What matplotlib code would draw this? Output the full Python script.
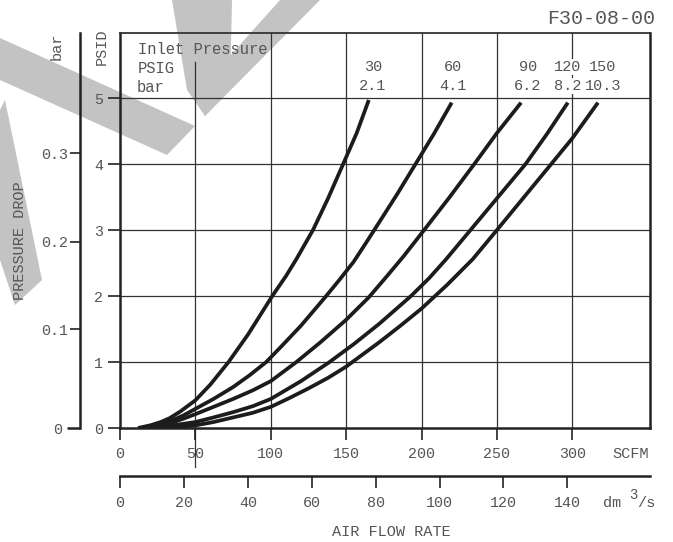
import matplotlib
matplotlib.use('Agg')
import matplotlib.pyplot as plt
from matplotlib.patches import Polygon

W, H = 673, 542
FONT = 'Liberation Mono'
TXT = '#555555'
INK = '#1c1c1c'

# pressure drop (PSID) against flow (SCFM)
INLET_PSIG = ['30', '60', '90', '120', '150']
INLET_BAR = ['2.1', '4.1', '6.2', '8.2', '10.3']

FLOW_30 = [12, 20, 27, 33, 40, 50, 60, 72, 85, 101, 110, 117, 128, 138, 148, 157, 165]
DROP_30 = [0, 0.04, 0.09, 0.15, 0.25, 0.42, 0.66, 1.0, 1.42, 2.0, 2.3, 2.56, 3.0,
           3.48, 4.0, 4.47, 4.97]

FLOW_60 = [14, 25, 33, 42, 50, 62, 75, 86, 97, 108, 120, 136, 145, 155, 163, 172,
           184, 196, 208, 220]
DROP_60 = [0, 0.04, 0.10, 0.19, 0.29, 0.44, 0.62, 0.8, 1.0, 1.26, 1.55, 1.98, 2.23,
           2.52, 2.8, 3.12, 3.55, 4.0, 4.45, 4.93]

FLOW_90 = [16, 25, 33, 42, 50, 62, 75, 88, 100, 117, 133, 150, 165, 177, 188, 200,
           218, 235, 250, 266]
DROP_90 = [0, 0.03, 0.07, 0.14, 0.21, 0.32, 0.44, 0.57, 0.71, 1.0, 1.3, 1.64, 1.98,
           2.3, 2.6, 2.95, 3.48, 4.0, 4.47, 4.93]

FLOW_120 = [18, 28, 35, 50, 62, 75, 88, 100, 120, 139, 155, 172, 193, 205, 216,
            231, 250, 269, 283, 297]
DROP_120 = [0, 0.02, 0.04, 0.09, 0.16, 0.24, 0.33, 0.44, 0.71, 1.0, 1.27, 1.58, 2.0,
            2.27, 2.55, 2.96, 3.48, 4.0, 4.45, 4.93]

FLOW_150 = [22, 35, 50, 62, 75, 88, 100, 112, 125, 138, 150, 172, 186, 200, 217,
            234, 250, 268, 286, 300, 317]
DROP_150 = [0, 0.01, 0.04, 0.09, 0.16, 0.23, 0.32, 0.45, 0.6, 0.76, 0.93, 1.3, 1.55,
            1.81, 2.17, 2.56, 3.0, 3.5, 4.0, 4.39, 4.93]

CURVES = [(FLOW_30, DROP_30), (FLOW_60, DROP_60), (FLOW_90, DROP_90),
          (FLOW_120, DROP_120), (FLOW_150, DROP_150)]

SCFM_TICKS = [0, 50, 100, 150, 200, 250, 300]
PSID_TICKS = [0, 1, 2, 3, 4, 5]
DM3S_TICKS = [0, 20, 40, 60, 80, 100, 120, 140]
SCFM_PER_DM3S = 2.119
BAR_LABELS = ['0.1', '0.2', '0.3']
BAR_AT_PSID = [1.5, 2.82, 4.16]

# label positions above the curves, pixels
LABEL_X = [373, 453, 528, 568, 603]


def fx(x):
    return x / W


def fy(y):
    return 1 - y / H


def ftext(x, y, s, **kw):
    opts = dict(family=FONT, color=TXT, fontsize=11, ha='center', va='center')
    opts.update(kw)
    return fig.text(fx(x), fy(y), s, **opts)


fig = plt.figure(figsize=(W / 100, H / 100), dpi=100)

# grey watermark behind everything
WATERMARK = [
    [(0, 38), (195, 126), (167, 155), (0, 80)],
    [(172, 0), (232, 0), (230, 90), (205, 116), (187, 90)],
    [(205, 116), (195, 95), (280, 0), (320, 0)],
    [(5, 100), (42, 280), (15, 305), (0, 260), (0, 110)],
]
for pts in WATERMARK:
    fig.patches.append(Polygon([(fx(a), fy(b)) for a, b in pts], closed=True,
                               transform=fig.transFigure, facecolor='#c3c3c3',
                               edgecolor='none', zorder=-5))

ax = fig.add_axes([fx(120), fy(428), 530 / W, 395 / H])
ax.patch.set_visible(False)
ax.set_xlim(0, 351.5)
ax.set_ylim(0, 5.985)

# grid
for v in SCFM_TICKS[2:]:
    ax.axvline(v, color='#333333', lw=0.9, zorder=1)
ax.plot([50, 50], [-0.59, 5.545], color='#333333', lw=0.9, clip_on=False, zorder=1)
for v in PSID_TICKS[1:]:
    ax.axhline(v, color='#333333', lw=0.9, zorder=1)

for flow, drop in CURVES:
    ax.plot(flow, drop, color=INK, lw=2.7, solid_capstyle='butt',
            solid_joinstyle='round', zorder=3)

for side in ['left', 'bottom', 'right']:
    ax.spines[side].set_linewidth(1.8)
    ax.spines[side].set_color('#222222')
ax.spines['top'].set_linewidth(1.3)
ax.spines['top'].set_color('#333333')

ax.set_xticks(SCFM_TICKS)
ax.set_xticklabels([str(v) for v in SCFM_TICKS])
ax.set_yticks(PSID_TICKS)
ax.set_yticklabels([str(v) for v in PSID_TICKS])
ax.tick_params(axis='x', length=8.6, width=1.2, color='#222222', pad=5,
               labelsize=10.8, labelcolor=TXT)
ax.tick_params(axis='y', length=8.6, width=1.2, color='#222222', pad=3.5,
               labelsize=10.8, labelcolor=TXT)
for lab in ax.get_xticklabels() + ax.get_yticklabels():
    lab.set_family(FONT)

# bar scale on the far left
axb = ax.twinx()
axb.set_ylim(ax.get_ylim())
for side in ['right', 'top', 'bottom']:
    axb.spines[side].set_visible(False)
axb.spines['left'].set_visible(True)
axb.spines['left'].set_position(('axes', -40 / 530))
axb.spines['left'].set_linewidth(1.8)
axb.spines['left'].set_color('#222222')
axb.yaxis.set_ticks_position('left')
axb.set_yticks(BAR_AT_PSID)
axb.set_yticklabels(BAR_LABELS)
axb.set_yticks([0], minor=True)
axb.set_yticklabels(['0'], minor=True)
axb.tick_params(axis='y', which='major', length=7.2, width=1.2, color='#222222',
                pad=1.5, labelsize=10.8, labelcolor=TXT)
axb.tick_params(axis='y', which='minor', length=9.4, width=1.8, color='#222222',
                pad=3.6, labelsize=10.8, labelcolor=TXT)
for lab in axb.get_yticklabels() + axb.get_yticklabels(minor=True):
    lab.set_family(FONT)

# dm3/s scale underneath
axd = ax.twiny()
axd.set_xlim(ax.get_xlim())
for side in ['right', 'top', 'left']:
    axd.spines[side].set_visible(False)
axd.spines['bottom'].set_visible(True)
axd.spines['bottom'].set_position(('axes', -48 / 395))
axd.spines['bottom'].set_linewidth(1.8)
axd.spines['bottom'].set_color('#222222')
axd.xaxis.set_ticks_position('bottom')
axd.set_xticks([v * SCFM_PER_DM3S for v in DM3S_TICKS])
axd.set_xticklabels([str(v) for v in DM3S_TICKS])
axd.tick_params(axis='x', length=8.6, width=1.2, color='#222222', pad=5.5,
                labelsize=10.8, labelcolor=TXT)
for lab in axd.get_xticklabels():
    lab.set_family(FONT)

# texts
ftext(601, 18, 'F30-08-00', fontsize=14.4)
ftext(138, 50, 'Inlet Pressure', ha='left', fontsize=11.2)
ftext(138, 69, 'PSIG', ha='left', fontsize=11.2)
ftext(137, 88, 'bar', ha='left', fontsize=11.2)
for x, p, b in zip(LABEL_X, INLET_PSIG, INLET_BAR):
    t1 = ftext(x, 67, p)
    t2 = ftext(x, 86, b)
    for t in (t1, t2):
        t.set_bbox(dict(facecolor='white', edgecolor='none', pad=0.5))
ftext(631, 454, 'SCFM')
ftext(612, 503, 'dm')
ftext(633, 495, '3', fontsize=10)
ftext(646, 503, '/s')
ftext(391, 532, 'AIR FLOW RATE')
ftext(20, 241, 'PRESSURE DROP', rotation=90)
ftext(57, 46, 'bar', rotation=90)
ftext(102, 47, 'PSID', rotation=90)

fig.savefig('out.png', dpi=100)
